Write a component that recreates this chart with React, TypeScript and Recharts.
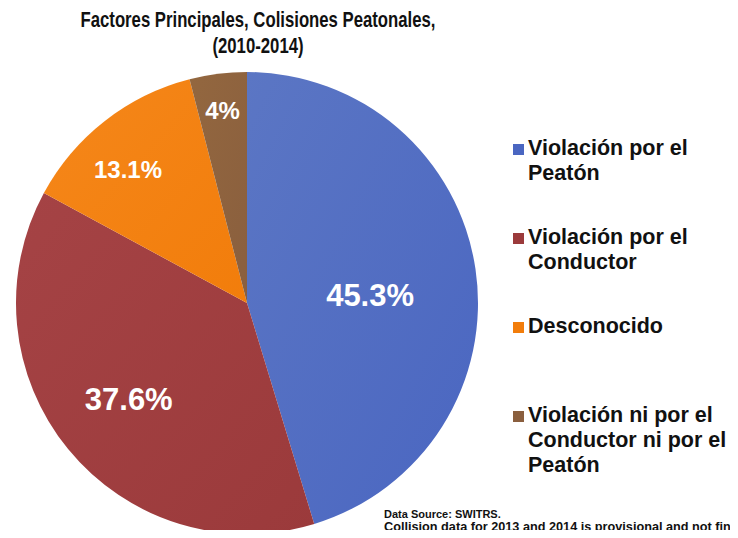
import { PieChart, Pie, Cell, Legend } from "recharts";

const categories = [
  "Violación por el Peatón",
  "Violación por el Conductor",
  "Desconocido",
  "Violación ni por el Conductor ni por el Peatón",
];

const shares = [45.3, 37.6, 13.1, 4];

const sliceLabels = ["45.3%", "37.6%", "13.1%", "4%"];

const colors = ["#4a66c1", "#9b3a3b", "#f27d0b", "#8a5f3e"];
const lightColors = ["#5b76c4", "#a54345", "#f5871a", "#93673f"];

// where each percent label sits inside its slice (fraction of radius, angle nudge)
const labelRadius = [0.534, 0.661, 0.773, 0.842];
const labelNudge = [-4.8, 0, 3.8, 0];

const pieData = categories.map((name, i) => ({
  name,
  value: shares[i],
  label: sliceLabels[i],
}));

const RAD = Math.PI / 180;

function renderLabel(props: any) {
  const { cx, cy, midAngle, outerRadius, percent, index } = props;
  const big = percent > 0.2;
  const r = outerRadius * labelRadius[index];
  const a = (midAngle + labelNudge[index]) * RAD;
  const x = cx + r * Math.cos(-a);
  const y = cy + r * Math.sin(-a);
  return (
    <text
      x={x}
      y={y}
      fill="#ffffff"
      textAnchor="middle"
      dominantBaseline="central"
      fontFamily="Liberation Sans, Arial, sans-serif"
      fontWeight="bold"
      fontSize={big ? 31 : 24}
    >
      {pieData[index].label}
    </text>
  );
}

function LegendContent() {
  return (
    <div style={{ fontFamily: "Liberation Sans, Arial, sans-serif" }}>
      {pieData.map((d, i) => (
        <div
          key={d.name}
          style={{ position: "relative", height: 89, paddingLeft: 18 }}
        >
          <div
            style={{
              position: "absolute",
              left: 3,
              top: 8,
              width: 11,
              height: 11,
              background: colors[i],
            }}
          />
          <div
            style={{
              width: 210,
              fontSize: 21.5,
              fontWeight: "bold",
              lineHeight: "25px",
              color: "#111",
            }}
          >
            {d.name}
          </div>
        </div>
      ))}
    </div>
  );
}

const footStyle = {
  position: "absolute" as const,
  left: 384,
  fontWeight: "bold",
  lineHeight: "14px",
  color: "#111",
  whiteSpace: "nowrap" as const,
  zIndex: 2,
};

export default function App() {
  return (
    <div
      style={{
        position: "relative",
        width: 738,
        height: 538,
        margin: -8,
        background: "#fff",
        overflow: "hidden",
        fontFamily: "Liberation Sans, Arial, sans-serif",
      }}
    >
      <div
        style={{
          position: "absolute",
          left: 0,
          top: 7,
          width: 516,
          textAlign: "center",
          fontWeight: "bold",
          fontSize: 22,
          lineHeight: "26px",
          color: "#111",
          transform: "scaleX(0.76)",
          transformOrigin: "258px 0",
        }}
      >
        Factores Principales, Colisiones Peatonales,
        <br />
        (2010-2014)
      </div>

      <PieChart
        width={738}
        height={538}
        margin={{ top: 0, right: 0, bottom: 0, left: 0 }}
        style={{ position: "absolute", left: 0, top: 0 }}
      >
        <defs>
          {colors.map((c, i) => (
            <linearGradient key={c} id={`g${i}`} x1="0" y1="0" x2="1" y2="1">
              <stop offset="0%" stopColor={lightColors[i]} />
              <stop offset="100%" stopColor={c} />
            </linearGradient>
          ))}
        </defs>
        <Pie
          data={pieData}
          dataKey="value"
          nameKey="name"
          cx={247}
          cy={303}
          outerRadius={231}
          startAngle={90}
          endAngle={-270}
          stroke="none"
          labelLine={false}
          label={renderLabel}
          isAnimationActive={false}
        >
          {pieData.map((d, i) => (
            <Cell key={d.name} fill={`url(#g${i})`} />
          ))}
        </Pie>
        <Legend
          layout="vertical"
          content={<LegendContent />}
          wrapperStyle={{ position: "absolute", left: 510, top: 136, width: 228 }}
        />
      </PieChart>

      <div style={{ ...footStyle, top: 507, fontSize: 11 }}>
        Data Source: SWITRS.
      </div>
      <div style={{ ...footStyle, top: 520, fontSize: 12.7 }}>
        Collision data for 2013 and 2014 is provisional and not final.
      </div>
    </div>
  );
}
